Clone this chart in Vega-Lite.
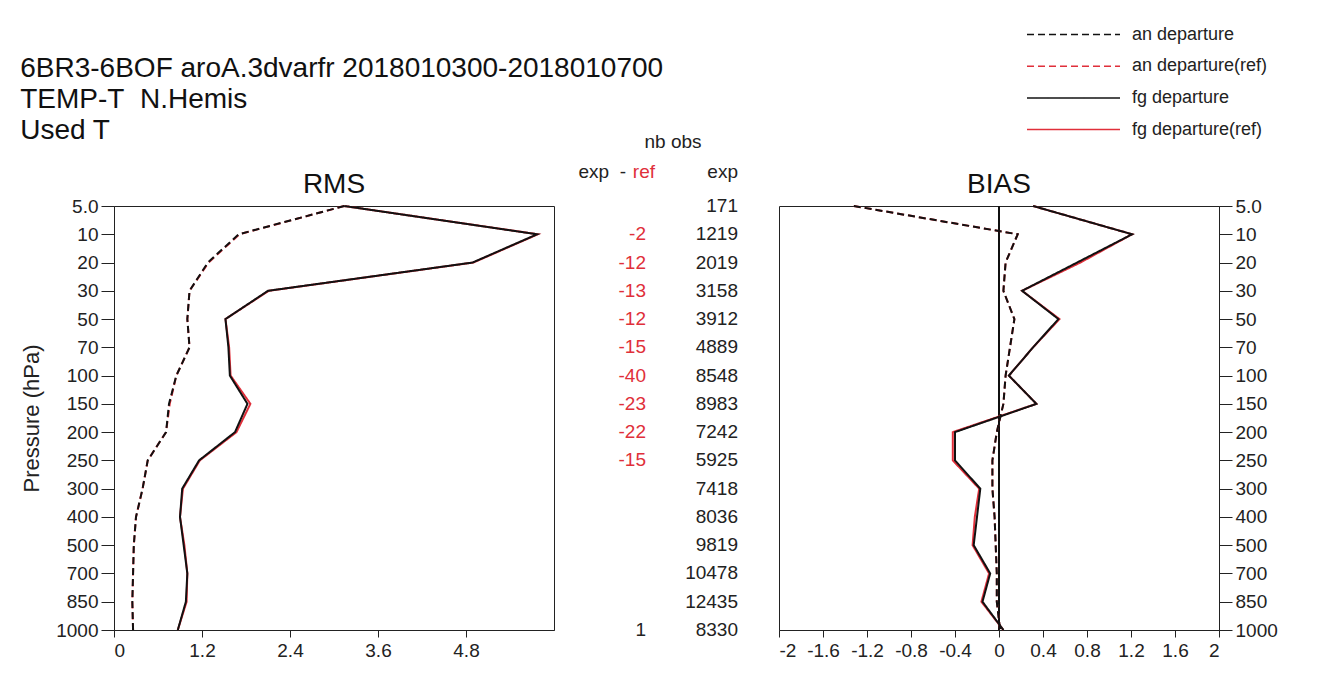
{
  "$schema": "https://vega.github.io/schema/vega-lite/v6.json",
  "background": "white",
  "padding": {"left": 20, "top": 24, "right": 5, "bottom": 5},
  "bounds": "flush",
  "spacing": 0,
  "title": {
    "text": ["6BR3-6BOF aroA.3dvarfr 2018010300-2018010700", "TEMP-T\u00a0\u00a0N.Hemis", "Used T"],
    "anchor": "start",
    "font": "Liberation Sans",
    "fontSize": 28,
    "fontWeight": "normal",
    "color": "#111111",
    "lineHeight": 31,
    "offset": -121
  },
  "datasets": {
    "prof": [
      {"lev": 5, "series": "an departure", "rms": 3.14, "bias": -1.32},
      {"lev": 10, "series": "an departure", "rms": 1.70, "bias": 0.17},
      {"lev": 20, "series": "an departure", "rms": 1.28, "bias": 0.06},
      {"lev": 30, "series": "an departure", "rms": 1.03, "bias": 0.04},
      {"lev": 50, "series": "an departure", "rms": 1.00, "bias": 0.14},
      {"lev": 70, "series": "an departure", "rms": 1.03, "bias": 0.10},
      {"lev": 100, "series": "an departure", "rms": 0.85, "bias": 0.06},
      {"lev": 150, "series": "an departure", "rms": 0.75, "bias": 0.04},
      {"lev": 200, "series": "an departure", "rms": 0.71, "bias": -0.02},
      {"lev": 250, "series": "an departure", "rms": 0.46, "bias": -0.06},
      {"lev": 300, "series": "an departure", "rms": 0.39, "bias": -0.06},
      {"lev": 400, "series": "an departure", "rms": 0.30, "bias": -0.04},
      {"lev": 500, "series": "an departure", "rms": 0.27, "bias": -0.03},
      {"lev": 700, "series": "an departure", "rms": 0.26, "bias": -0.02},
      {"lev": 850, "series": "an departure", "rms": 0.25, "bias": -0.02},
      {"lev": 1000, "series": "an departure", "rms": 0.26, "bias": 0.01},
      {"lev": 5, "series": "an departure(ref)", "rms": 3.14, "bias": -1.32},
      {"lev": 10, "series": "an departure(ref)", "rms": 1.71, "bias": 0.17},
      {"lev": 20, "series": "an departure(ref)", "rms": 1.29, "bias": 0.06},
      {"lev": 30, "series": "an departure(ref)", "rms": 1.03, "bias": 0.04},
      {"lev": 50, "series": "an departure(ref)", "rms": 1.00, "bias": 0.14},
      {"lev": 70, "series": "an departure(ref)", "rms": 1.03, "bias": 0.10},
      {"lev": 100, "series": "an departure(ref)", "rms": 0.85, "bias": 0.06},
      {"lev": 150, "series": "an departure(ref)", "rms": 0.76, "bias": 0.04},
      {"lev": 200, "series": "an departure(ref)", "rms": 0.71, "bias": -0.02},
      {"lev": 250, "series": "an departure(ref)", "rms": 0.46, "bias": -0.06},
      {"lev": 300, "series": "an departure(ref)", "rms": 0.39, "bias": -0.06},
      {"lev": 400, "series": "an departure(ref)", "rms": 0.30, "bias": -0.04},
      {"lev": 500, "series": "an departure(ref)", "rms": 0.27, "bias": -0.03},
      {"lev": 700, "series": "an departure(ref)", "rms": 0.26, "bias": -0.02},
      {"lev": 850, "series": "an departure(ref)", "rms": 0.25, "bias": -0.02},
      {"lev": 1000, "series": "an departure(ref)", "rms": 0.26, "bias": 0.01},
      {"lev": 5, "series": "fg departure", "rms": 3.14, "bias": 0.31},
      {"lev": 10, "series": "fg departure", "rms": 5.77, "bias": 1.21},
      {"lev": 20, "series": "fg departure", "rms": 4.89, "bias": 0.71},
      {"lev": 30, "series": "fg departure", "rms": 2.10, "bias": 0.21},
      {"lev": 50, "series": "fg departure", "rms": 1.52, "bias": 0.54},
      {"lev": 70, "series": "fg departure", "rms": 1.56, "bias": 0.31},
      {"lev": 100, "series": "fg departure", "rms": 1.58, "bias": 0.09},
      {"lev": 150, "series": "fg departure", "rms": 1.82, "bias": 0.34},
      {"lev": 200, "series": "fg departure", "rms": 1.65, "bias": -0.40},
      {"lev": 250, "series": "fg departure", "rms": 1.16, "bias": -0.40},
      {"lev": 300, "series": "fg departure", "rms": 0.93, "bias": -0.17},
      {"lev": 400, "series": "fg departure", "rms": 0.90, "bias": -0.20},
      {"lev": 500, "series": "fg departure", "rms": 0.95, "bias": -0.23},
      {"lev": 700, "series": "fg departure", "rms": 1.00, "bias": -0.08},
      {"lev": 850, "series": "fg departure", "rms": 0.98, "bias": -0.15},
      {"lev": 1000, "series": "fg departure", "rms": 0.87, "bias": 0.04},
      {"lev": 5, "series": "fg departure(ref)", "rms": 3.14, "bias": 0.31},
      {"lev": 10, "series": "fg departure(ref)", "rms": 5.78, "bias": 1.21},
      {"lev": 20, "series": "fg departure(ref)", "rms": 4.90, "bias": 0.74},
      {"lev": 30, "series": "fg departure(ref)", "rms": 2.11, "bias": 0.21},
      {"lev": 50, "series": "fg departure(ref)", "rms": 1.52, "bias": 0.55},
      {"lev": 70, "series": "fg departure(ref)", "rms": 1.57, "bias": 0.31},
      {"lev": 100, "series": "fg departure(ref)", "rms": 1.59, "bias": 0.09},
      {"lev": 150, "series": "fg departure(ref)", "rms": 1.86, "bias": 0.34},
      {"lev": 200, "series": "fg departure(ref)", "rms": 1.67, "bias": -0.42},
      {"lev": 250, "series": "fg departure(ref)", "rms": 1.17, "bias": -0.42},
      {"lev": 300, "series": "fg departure(ref)", "rms": 0.94, "bias": -0.18},
      {"lev": 400, "series": "fg departure(ref)", "rms": 0.90, "bias": -0.22},
      {"lev": 500, "series": "fg departure(ref)", "rms": 0.96, "bias": -0.24},
      {"lev": 700, "series": "fg departure(ref)", "rms": 1.00, "bias": -0.09},
      {"lev": 850, "series": "fg departure(ref)", "rms": 0.99, "bias": -0.16},
      {"lev": 1000, "series": "fg departure(ref)", "rms": 0.87, "bias": 0.04}
    ],
    "obs": [
      {"lev": 5, "exp": 171, "diff": null},
      {"lev": 10, "exp": 1219, "diff": -2},
      {"lev": 20, "exp": 2019, "diff": -12},
      {"lev": 30, "exp": 3158, "diff": -13},
      {"lev": 50, "exp": 3912, "diff": -12},
      {"lev": 70, "exp": 4889, "diff": -15},
      {"lev": 100, "exp": 8548, "diff": -40},
      {"lev": 150, "exp": 8983, "diff": -23},
      {"lev": 200, "exp": 7242, "diff": -22},
      {"lev": 250, "exp": 5925, "diff": -15},
      {"lev": 300, "exp": 7418, "diff": null},
      {"lev": 400, "exp": 8036, "diff": null},
      {"lev": 500, "exp": 9819, "diff": null},
      {"lev": 700, "exp": 10478, "diff": null},
      {"lev": 850, "exp": 12435, "diff": null},
      {"lev": 1000, "exp": 8330, "diff": 1}
    ]
  },
  "resolve": {"scale": {"x": "independent", "y": "independent"}},
  "hconcat": [
    {
      "width": 440,
      "height": 424,
      "title": {"text": "RMS", "font": "Liberation Sans", "fontSize": 28, "fontWeight": "normal", "color": "#111111", "offset": -2},
      "data": {"name": "prof"},
      "encoding": {
        "x": {"field": "rms", "type": "quantitative", "scale": {"domain": [0, 6], "nice": false, "zero": false},
          "axis": {"title": null, "values": [0, 1.2, 2.4, 3.6, 4.8], "labelExpr": "'' + datum.value", "tickSize": 7}},
        "y": {"field": "lev", "type": "ordinal",
          "scale": {"type": "point", "padding": 0, "domain": [5, 10, 20, 30, 50, 70, 100, 150, 200, 250, 300, 400, 500, 700, 850, 1000]},
          "axis": {"title": "Pressure (hPa)", "titlePadding": 12, "tickSize": 13, "labelPadding": 3, "labelExpr": "datum.value == 5 ? '5.0' : datum.label"}},
        "color": {"field": "series", "type": "nominal",
          "scale": {"domain": ["an departure", "an departure(ref)", "fg departure", "fg departure(ref)"], "range": ["#111111", "#e02f3a", "#111111", "#e02f3a"]},
          "legend": {"title": null, "orient": "none", "legendX": 949, "legendY": -182, "symbolType": "M-5,0H5", "symbolSize": 346, "symbolStrokeWidth": 1.5, "labelFont": "Liberation Sans", "labelFontSize": 18, "labelColor": "#222222", "labelOffset": 48, "rowPadding": 11.7, "padding": 0}},
        "strokeDash": {"field": "series", "type": "nominal",
          "scale": {"domain": ["an departure", "an departure(ref)", "fg departure", "fg departure(ref)"], "range": [[7, 4], [7, 4], [1, 0], [1, 0]]},
          "legend": {"title": null, "orient": "none", "legendX": 949, "legendY": -182, "symbolType": "M-5,0H5", "symbolSize": 346, "symbolStrokeWidth": 1.5, "labelFont": "Liberation Sans", "labelFontSize": 18, "labelColor": "#222222", "labelOffset": 48, "rowPadding": 11.7, "padding": 0}},
        "order": {"field": "lev", "type": "quantitative"}
      },
      "layer": [
        {"transform": [{"filter": "indexof(datum.series, '(ref)') >= 0"}], "mark": {"type": "line", "strokeWidth": 2}},
        {"transform": [{"filter": "indexof(datum.series, '(ref)') < 0"}], "mark": {"type": "line", "strokeWidth": 2}}
      ]
    },
    {
      "width": 225,
      "height": 424,
      "view": {"stroke": null},
      "data": {"name": "obs"},
      "encoding": {
        "y": {"field": "lev", "type": "ordinal",
          "scale": {"type": "point", "padding": 0, "domain": [5, 10, 20, 30, 50, 70, 100, 150, 200, 250, 300, 400, 500, 700, 850, 1000]},
          "axis": null}
      },
      "layer": [
        {
          "mark": {"type": "text", "align": "right", "baseline": "middle", "font": "Liberation Sans", "fontSize": 19, "color": "#222222"},
          "encoding": {
            "x": {"datum": "exp", "type": "nominal", "scale": {"type": "point", "domain": ["diff", "exp"], "padding": 0.7228, "align": 0.6917}, "axis": null},
            "text": {"field": "exp", "type": "nominal"}
          }
        },
        {
          "transform": [{"filter": "datum.diff != null"}],
          "mark": {"type": "text", "align": "right", "baseline": "middle", "font": "Liberation Sans", "fontSize": 19},
          "encoding": {
            "x": {"datum": "diff", "type": "nominal"},
            "text": {"field": "diff", "type": "nominal"},
            "color": {"condition": {"test": "datum.diff < 0", "value": "#e02f3a"}, "value": "#222222"}
          }
        },
        {
          "data": {"values": [{}]},
          "mark": {"type": "text", "text": "nb obs", "align": "center", "baseline": "middle", "font": "Liberation Sans", "fontSize": 19, "color": "#222222", "dx": -65, "dy": -64},
          "encoding": {"x": {"datum": "exp", "type": "nominal"}, "y": {"datum": 5, "type": "ordinal"}}
        },
        {
          "data": {"values": [{}]},
          "mark": {"type": "text", "text": "exp", "align": "right", "baseline": "middle", "font": "Liberation Sans", "fontSize": 19, "color": "#222222", "dy": -34},
          "encoding": {"x": {"datum": "exp", "type": "nominal"}, "y": {"datum": 5, "type": "ordinal"}}
        },
        {
          "data": {"values": [{}]},
          "mark": {"type": "text", "text": "ref", "align": "right", "baseline": "middle", "font": "Liberation Sans", "fontSize": 19, "color": "#e02f3a", "dx": 9, "dy": -34},
          "encoding": {"x": {"datum": "diff", "type": "nominal"}, "y": {"datum": 5, "type": "ordinal"}}
        },
        {
          "data": {"values": [{}]},
          "mark": {"type": "text", "text": "exp\u00a0\u00a0-", "align": "right", "baseline": "middle", "font": "Liberation Sans", "fontSize": 19, "color": "#222222", "dx": -20, "dy": -34},
          "encoding": {"x": {"datum": "diff", "type": "nominal"}, "y": {"datum": 5, "type": "ordinal"}}
        }
      ]
    },
    {
      "width": 440,
      "height": 424,
      "title": {"text": "BIAS", "font": "Liberation Sans", "fontSize": 28, "fontWeight": "normal", "color": "#111111", "offset": -2},
      "data": {"name": "prof"},
      "encoding": {
        "y": {"field": "lev", "type": "ordinal",
          "scale": {"type": "point", "padding": 0, "domain": [5, 10, 20, 30, 50, 70, 100, 150, 200, 250, 300, 400, 500, 700, 850, 1000]},
          "axis": {"title": null, "orient": "right", "tickSize": 13, "labelPadding": 3, "labelExpr": "datum.value == 5 ? '5.0' : datum.label"}}
      },
      "layer": [
        {
          "mark": {"type": "rule", "color": "#111111", "strokeWidth": 1},
          "encoding": {"x": {"datum": 0, "type": "quantitative"}, "y": null}
        },
        {
          "transform": [{"filter": "indexof(datum.series, '(ref)') >= 0"}],
          "mark": {"type": "line", "strokeWidth": 2},
          "encoding": {
            "x": {"field": "bias", "type": "quantitative", "scale": {"domain": [-2, 2], "nice": false},
              "axis": {"title": null, "tickSize": 7, "values": [-2, -1.6, -1.2, -0.8, -0.4, 0, 0.4, 0.8, 1.2, 1.6, 2], "labelExpr": "'' + datum.value"}},
            "color": {"field": "series", "type": "nominal"},
            "strokeDash": {"field": "series", "type": "nominal"},
            "order": {"field": "lev", "type": "quantitative"}
          }
        },
        {
          "transform": [{"filter": "indexof(datum.series, '(ref)') < 0"}],
          "mark": {"type": "line", "strokeWidth": 2},
          "encoding": {
            "x": {"field": "bias", "type": "quantitative"},
            "color": {"field": "series", "type": "nominal"},
            "strokeDash": {"field": "series", "type": "nominal"},
            "order": {"field": "lev", "type": "quantitative"}
          }
        }
      ]
    }
  ],
  "config": {
    "view": {"stroke": "#222222", "strokeWidth": 1},
    "axis": {
      "domainColor": "#222222", "tickColor": "#222222", "grid": false,
      "labelFont": "Liberation Sans", "labelFontSize": 19, "labelColor": "#222222", "labelPadding": 4,
      "titleFont": "Liberation Sans", "titleFontSize": 22, "titleFontWeight": "normal", "titleColor": "#222222"
    }
  }
}
